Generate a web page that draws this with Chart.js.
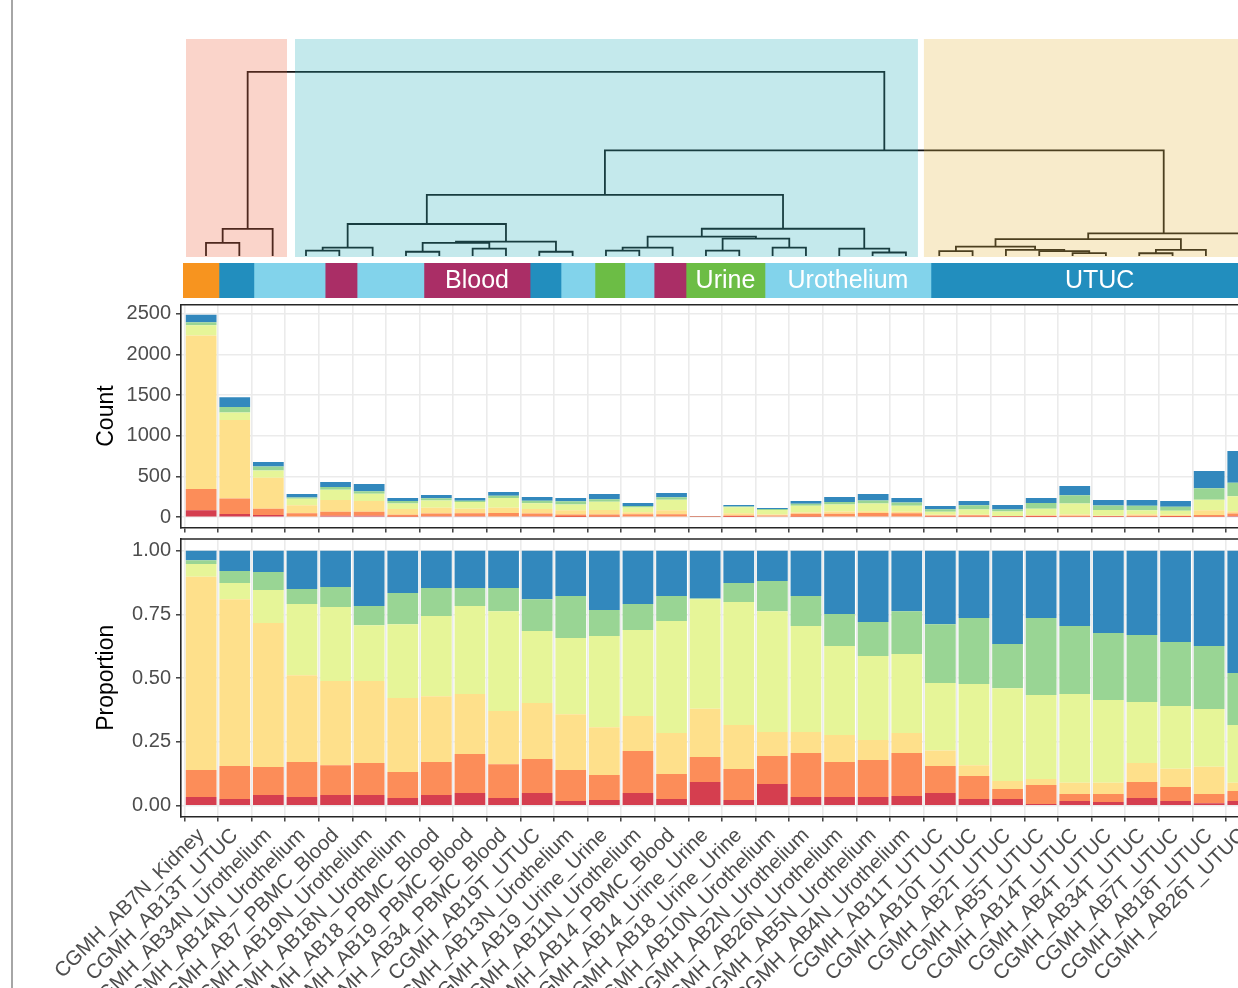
<!DOCTYPE html>
<html>
<head>
<meta charset="utf-8">
<script src="https://cdn.jsdelivr.net/npm/chart.js@4.4.1/dist/chart.umd.min.js"></script>
<style>
  html, body { margin: 0; padding: 0; background: #fff; overflow: hidden; width: 1238px; height: 988px; }
  #page { position: relative; width: 1238px; height: 988px; overflow: hidden; }
  #page canvas { position: absolute; left: 0; }
  #edge { position: absolute; left: 11px; top: 0; width: 2px; height: 988px; background: #a6a6a6; }
</style>
</head>
<body>
<div id="page">
  <div id="edge"></div>
  <canvas id="dend" width="1300" height="262" style="top:0px"></canvas>
  <canvas id="strip" width="1300" height="35" style="top:263px"></canvas>
  <canvas id="count" width="1300" height="240" style="top:298px"></canvas>
  <canvas id="prop" width="1300" height="458" style="top:530px"></canvas>
</div>
<script>
// ---- samples, in dendrogram leaf order ----
const samples = [
  'CGMH_AB7N_Kidney', 'CGMH_AB13T_UTUC', 'CGMH_AB34N_Urothelium', 'CGMH_AB14N_Urothelium',
  'CGMH_AB7_PBMC_Blood', 'CGMH_AB19N_Urothelium', 'CGMH_AB18N_Urothelium', 'CGMH_AB18_PBMC_Blood',
  'CGMH_AB19_PBMC_Blood', 'CGMH_AB34_PBMC_Blood', 'CGMH_AB19T_UTUC', 'CGMH_AB13N_Urothelium',
  'CGMH_AB19_Urine_Urine', 'CGMH_AB11N_Urothelium', 'CGMH_AB14_PBMC_Blood', 'CGMH_AB14_Urine_Urine',
  'CGMH_AB18_Urine_Urine', 'CGMH_AB10N_Urothelium', 'CGMH_AB2N_Urothelium', 'CGMH_AB26N_Urothelium',
  'CGMH_AB5N_Urothelium', 'CGMH_AB4N_Urothelium', 'CGMH_AB11T_UTUC', 'CGMH_AB10T_UTUC',
  'CGMH_AB2T_UTUC', 'CGMH_AB5T_UTUC', 'CGMH_AB14T_UTUC', 'CGMH_AB4T_UTUC',
  'CGMH_AB34T_UTUC', 'CGMH_AB7T_UTUC', 'CGMH_AB18T_UTUC', 'CGMH_AB26T_UTUC'
];
const sampleType = [
  'Kidney', 'UTUC', 'Urothelium', 'Urothelium', 'Blood', 'Urothelium', 'Urothelium', 'Blood',
  'Blood', 'Blood', 'UTUC', 'Urothelium', 'Urine', 'Urothelium', 'Blood', 'Urine',
  'Urine', 'Urothelium', 'Urothelium', 'Urothelium', 'Urothelium', 'Urothelium', 'UTUC', 'UTUC',
  'UTUC', 'UTUC', 'UTUC', 'UTUC', 'UTUC', 'UTUC', 'UTUC', 'UTUC'
];

// total counts per sample
const totals = [2490, 1475, 680, 287, 434, 410, 238, 275, 238, 311, 250, 238, 287, 176, 299, 16,
                152, 115, 201, 250, 287, 238, 139, 201, 152, 238, 385, 213, 213, 201, 570, 816];

// share of each component per sample (bottom to top of each bar)
const comp1 = [.034,.026,.042,.034,.042,.042,.030,.042,.050,.030,.050,.018,.022,.050,.026,.093,
               .022,.085,.034,.034,.034,.038,.050,.026,.026,.007,.018,.014,.030,.018,.010,.018];
const comp2 = [.106,.130,.110,.137,.117,.125,.102,.129,.153,.133,.133,.122,.098,.164,.098,.098,
               .122,.110,.173,.137,.145,.169,.106,.090,.039,.074,.028,.032,.063,.055,.036,.040];
const comp3 = [.758,.654,.564,.341,.330,.322,.290,.258,.235,.208,.220,.219,.188,.138,.161,.189,
               .172,.094,.082,.106,.079,.078,.060,.043,.032,.024,.044,.044,.074,.072,.107,.032];
const comp4 = [.050,.063,.130,.279,.290,.219,.290,.315,.345,.392,.282,.299,.357,.337,.439,.430,
               .483,.474,.416,.349,.329,.310,.265,.318,.364,.329,.348,.324,.240,.246,.226,.226];
const comp5 = [.015,.047,.070,.059,.079,.075,.122,.110,.071,.091,.125,.164,.102,.102,.098,.003,
               .074,.118,.117,.126,.133,.168,.231,.259,.173,.302,.267,.263,.262,.251,.247,.204];
const comp6 = [.037,.080,.084,.150,.142,.217,.166,.146,.146,.146,.190,.178,.233,.209,.178,.187,
               .127,.119,.178,.248,.280,.237,.288,.264,.366,.264,.295,.323,.331,.358,.374,.480];
const compNames = ['C1', 'C2', 'C3', 'C4', 'C5', 'C6'];

// axis tick values
const countTicks = [0, 500, 1000, 1500, 2000, 2500];
const propTicks = [0, 0.25, 0.5, 0.75, 1];

// hierarchical clustering merges: [left, right, height]; negative = leaf, positive = earlier merge row
const dendMerge = [
  [-1, -2, 0.71], [1, -3, 1.47], [-4, -5, 0.29], [3, -6, 0.45], [-7, -8, 0.23],
  [-9, -10, 0.40], [5, 6, 0.71], [-11, -12, 0.23], [7, 8, 0.78], [4, 9, 1.74],
  [-13, -14, 0.29], [11, -15, 0.45], [-16, -17, 0.29], [-18, -19, 0.45], [13, 14, 0.94],
  [12, 15, 1.05], [-21, -22, 0.19], [-20, 17, 0.40], [16, 18, 1.48], [10, 19, 3.32],
  [-23, -24, 0.26], [-27, -28, 0.16], [-26, 22, 0.27], [-25, 23, 0.33], [21, 24, 0.51],
  [-29, -30, 0.15], [26, -31, 0.33], [25, 27, 0.92], [28, -32, 1.23], [20, 29, 5.74],
  [2, 30, 10.0]
];
// cluster boxes along the leaf axis
const clusterBounds = [[0.40, 3.43], [3.67, 22.36], [22.54, 32.7]];

// annotation strip: run edges along the strip axis
const stripEdges = [0, 1.07, 2.11, 4.23, 5.18, 7.17, 10.33, 11.25, 12.26, 13.15, 14.02, 14.97, 17.32, 22.26, 32.3];

// ---- styling ----
const compColors = ['#D53E4F', '#FC8D59', '#FEE08B', '#E6F598', '#99D594', '#3288BD'];
const typeColors = { Kidney: '#F7941F', UTUC: '#228EBE', Urothelium: '#82D3EB', Blood: '#AA2E66', Urine: '#6CBD45' };
const clusterFill = ['rgba(236,96,59,0.27)', 'rgba(37,174,185,0.27)', 'rgba(229,181,62,0.27)'];
const FONT = "'Liberation Sans', Arial, Helvetica, sans-serif";
Chart.defaults.font.family = FONT;

const W = 1300;
const AXIS_LEFT = 181;            // left edge of the bar panels
const SLOT = 33.6;                // one category width on the bar panels
const X_MIN = 0.4, X_MAX = 32.6;  // discrete axis with 0.6 expansion
const barRight = W - (AXIS_LEFT + (X_MAX - X_MIN) * SLOT);

const base = {
  responsive: false, animation: false, events: [],
  plugins: { legend: { display: false }, tooltip: { enabled: false } }
};

// ---------- dendrogram ----------
const LEAF = 33.33, LEAF1_PX = 206, DEND_LEFT = 180;
const dendMin = 1 - (LEAF1_PX - DEND_LEFT) / LEAF;
const dendMax = dendMin + (W - DEND_LEFT) / LEAF;
const nodeX = [], nodeH = [];
const dendSets = [];
const pos = c => c < 0 ? [-c, 0] : [nodeX[c - 1], nodeH[c - 1]];
dendMerge.forEach(([a, b, h]) => {
  const [xa, ha] = pos(a), [xb, hb] = pos(b);
  nodeX.push((xa + xb) / 2); nodeH.push(h);
  dendSets.push({
    data: [{ x: xa, y: ha }, { x: xa, y: h }, { x: xb, y: h }, { x: xb, y: hb }],
    showLine: true, pointRadius: 0, borderColor: '#141414', borderWidth: 1.8,
    tension: 0, fill: false, borderJoinStyle: 'miter', borderCapStyle: 'butt'
  });
});
const clusterShade = {
  id: 'clusterShade',
  afterDatasetsDraw(chart) {
    const { ctx, chartArea, scales: { x } } = chart;
    ctx.save();
    clusterBounds.forEach(([a, b], i) => {
      const x0 = x.getPixelForValue(a), x1 = x.getPixelForValue(b);
      ctx.fillStyle = clusterFill[i];
      ctx.fillRect(x0, chartArea.top, x1 - x0, chartArea.bottom - chartArea.top);
    });
    ctx.restore();
  }
};
new Chart(document.getElementById('dend'), {
  type: 'scatter',
  data: { datasets: dendSets },
  options: Object.assign({}, base, {
    layout: { autoPadding: false, padding: { left: DEND_LEFT, right: 0, top: 39, bottom: 5 } },
    scales: {
      x: { type: 'linear', display: false, min: dendMin, max: dendMax },
      y: { type: 'linear', display: false, min: -0.054, max: 11.79 }
    }
  }),
  plugins: [clusterShade]
});

// ---------- sample-type strip ----------
const runs = [];
sampleType.forEach((t, i) => {
  if (i === 0 || t !== sampleType[i - 1]) runs.push({ type: t, n: 1 });
  else runs[runs.length - 1].n++;
});
runs.forEach((r, i) => { r.start = stripEdges[i]; r.end = stripEdges[i + 1]; });
// the longest run of each type (spanning at least two samples) carries the type name
const longest = {};
runs.forEach((r, i) => { if (!(r.type in longest) || r.n > runs[longest[r.type]].n) longest[r.type] = i; });
const STRIP_LEFT = 183;
const stripLabels = {
  id: 'stripLabels',
  afterDatasetsDraw(chart) {
    const { ctx } = chart;
    ctx.save();
    ctx.fillStyle = '#ffffff';
    ctx.font = '25px ' + FONT;
    ctx.textAlign = 'center';
    ctx.textBaseline = 'middle';
    runs.forEach((r, i) => {
      if (longest[r.type] !== i || r.n < 2) return;
      const el = chart.getDatasetMeta(i).data[0];
      ctx.fillText(r.type, (el.x + el.base) / 2, el.y + 1);
    });
    ctx.restore();
  }
};
new Chart(document.getElementById('strip'), {
  type: 'bar',
  data: {
    labels: [''],
    datasets: runs.map(r => ({
      label: r.type, data: [[r.start, r.end]], backgroundColor: typeColors[r.type],
      borderWidth: 0, barPercentage: 1, categoryPercentage: 1, grouped: false
    }))
  },
  options: Object.assign({}, base, {
    indexAxis: 'y',
    layout: { autoPadding: false, padding: { left: STRIP_LEFT, right: 0, top: 0, bottom: 0 } },
    scales: {
      x: { type: 'linear', display: false, min: 0, max: (W - STRIP_LEFT) / SLOT },
      y: { display: false }
    }
  }),
  plugins: [stripLabels]
});

// ---------- stacked bars ----------
const comps = [comp1, comp2, comp3, comp4, comp5, comp6];
const sums = samples.map((_, i) => comps.reduce((s, c) => s + c[i], 0));
const panelTop = {
  id: 'panelTop',
  afterDraw(chart) {
    const { ctx, chartArea } = chart;
    ctx.save();
    ctx.strokeStyle = '#262626';
    ctx.lineWidth = 1.6;
    ctx.beginPath();
    ctx.moveTo(chartArea.left - 0.8, chartArea.top);
    ctx.lineTo(chartArea.right, chartArea.top);
    ctx.stroke();
    ctx.restore();
  }
};
const gridStyle = { color: '#EBEBEB', lineWidth: 1.6, tickColor: '#333333', tickLength: 5, tickWidth: 1.4 };
const borderStyle = { display: true, color: '#262626', width: 1.6 };
// keep the plot area exactly where the layout puts it (no room reserved for overhanging labels)
function noPad(s) { s.paddingTop = 0; s.paddingBottom = 0; s.paddingLeft = 0; s.paddingRight = 0; }

function barSets(valueOf) {
  return comps.map((c, k) => ({
    label: compNames[k],
    data: samples.map((_, i) => ({ x: i + 1, y: valueOf(c[i] / sums[i], i) })),
    backgroundColor: compColors[k], borderWidth: 0,
    barPercentage: 0.915, categoryPercentage: 1
  }));
}
function barOptions(cfg) {
  return Object.assign({}, base, {
    layout: { autoPadding: false, padding: { left: 0, right: barRight, top: cfg.top, bottom: 0 } },
    scales: {
      x: {
        type: 'linear', min: X_MIN, max: X_MAX, offset: false, stacked: true,
        ticks: Object.assign({ autoSkip: false }, cfg.xticks),
        afterBuildTicks(s) { s.ticks = samples.map((_, i) => ({ value: i + 1 })); },
        grid: gridStyle, border: borderStyle,
        afterFit(s) { s.height = cfg.xHeight; noPad(s); }
      },
      y: {
        stacked: true, min: cfg.ymin, max: cfg.ymax,
        afterBuildTicks(s) { s.ticks = cfg.tickValues.map(v => ({ value: v })); },
        ticks: { color: '#4D4D4D', font: { size: 20, family: FONT }, padding: 5, callback: cfg.fmt },
        grid: gridStyle, border: borderStyle,
        title: { display: true, text: cfg.title, color: '#000000', font: { size: 23, family: FONT },
                 padding: { top: 93, bottom: 0 } },
        afterFit(s) { s.width = AXIS_LEFT; noPad(s); }
      }
    }
  });
}

new Chart(document.getElementById('count'), {
  type: 'bar',
  data: { datasets: barSets((p, i) => p * totals[i]) },
  options: barOptions({
    top: 6.7, xHeight: 10.6, ymin: -125, ymax: 2614, tickValues: countTicks, title: 'Count',
    fmt: v => String(v), xticks: { display: false }
  }),
  plugins: [panelTop]
});

new Chart(document.getElementById('prop'), {
  type: 'bar',
  data: { datasets: barSets(p => p) },
  options: barOptions({
    top: 9, xHeight: 171.5, ymin: -0.0424, ymax: 1.0459, tickValues: propTicks, title: 'Proportion',
    fmt: v => v.toFixed(2),
    xticks: {
      display: true, maxRotation: 45, minRotation: 45, color: '#4D4D4D',
      font: { size: 20.5, family: FONT }, padding: 2,
      callback: v => samples[Math.round(v) - 1] || ''
    }
  }),
  plugins: [panelTop]
});
</script>
</body>
</html>
